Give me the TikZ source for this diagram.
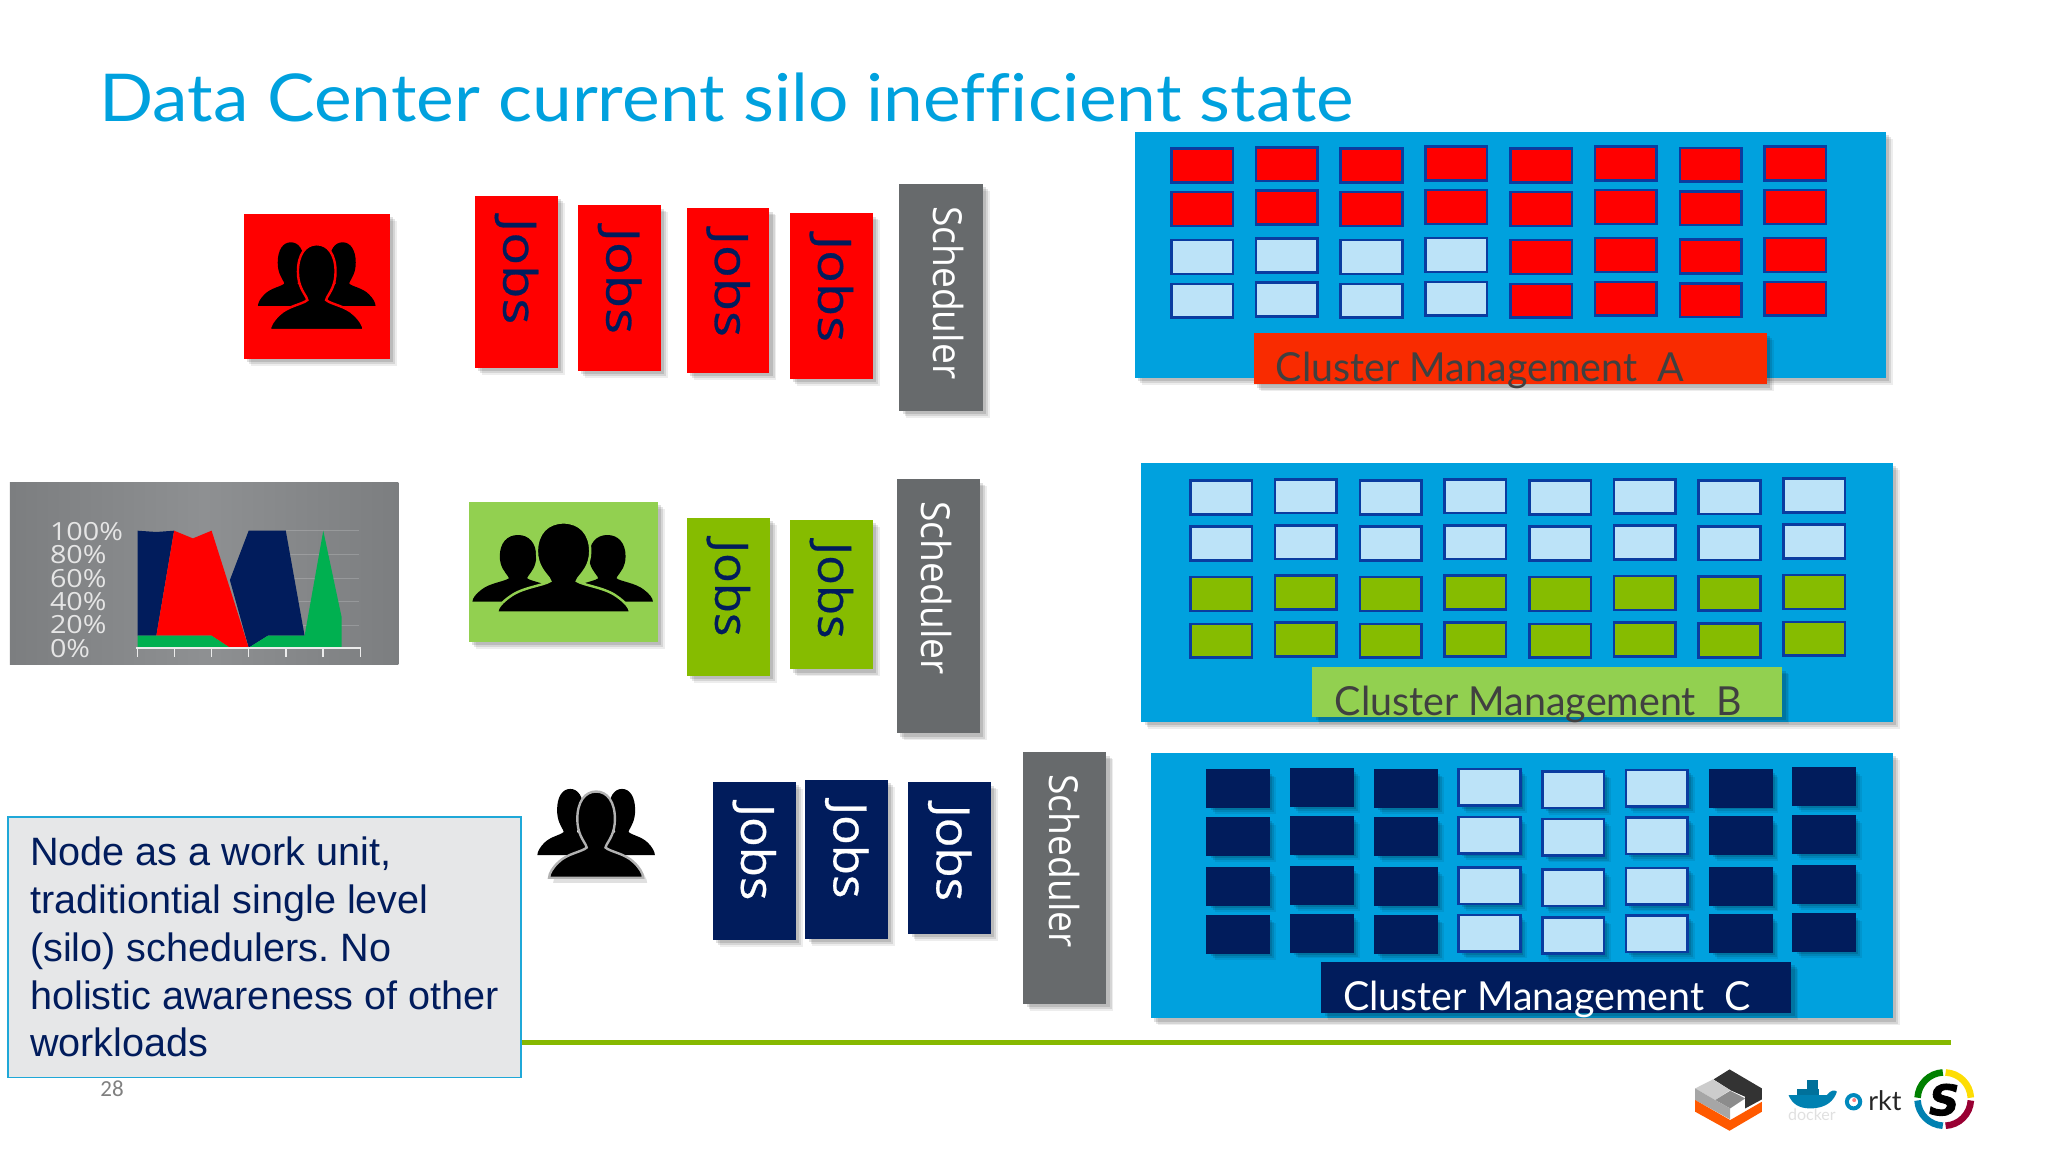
\documentclass[tikz,border=0pt]{standalone}
\usepackage{fontspec}
\usetikzlibrary{fit}
\usetikzlibrary{calc}
\usetikzlibrary{shadows}
\setmainfont{Lato}
\newfontfamily\titlefont[FakeStretch=1.08, Ligatures=NoCommon]{Lato}
\newfontfamily\clusterfont[FakeStretch=0.985]{Lato}
\newfontfamily\jobsfont[FakeStretch=1.07, FakeBold=0.6]{Open Sans}
\newfontfamily\jobswidefont[FakeStretch=1.18, FakeBold=0.6]{Open Sans}
\newfontfamily\schedfont[FakeStretch=0.93]{Open Sans}
\newfontfamily\chartfont[FakeStretch=1.15]{Open Sans}
\newfontfamily\notefont{Liberation Sans}
\newfontfamily\pagefont{Carlito}
\newfontfamily\logofont[FakeBold=2]{DejaVu Sans}
\definecolor{skyblue}{RGB}{0, 161, 222}
\definecolor{jobred}{RGB}{255, 0, 0}
\definecolor{barred}{RGB}{249, 43, 0}
\definecolor{jobgreen}{RGB}{134, 188, 0}
\definecolor{bargreen}{RGB}{146, 208, 80}
\definecolor{jobnavy}{RGB}{1, 28, 92}
\definecolor{cellfree}{RGB}{188, 227, 248}
\definecolor{celledge}{RGB}{10, 60, 160}
\definecolor{schedgray}{RGB}{103, 106, 108}
\definecolor{notefill}{RGB}{230, 231, 232}
\definecolor{noteedge}{RGB}{31, 168, 216}
\definecolor{chartgray}{RGB}{142, 144, 146}
\definecolor{chartdark}{RGB}{124, 126, 128}
\definecolor{chartgreen}{RGB}{0, 176, 80}
\definecolor{footgreen}{RGB}{134, 184, 0}
\tikzset{
    softshadow/.style={
        general shadow={shadow xshift=3.5pt, shadow yshift=-3.5pt, fill=black, opacity=0.07},
        general shadow={shadow xshift=2.6pt, shadow yshift=-2.6pt, fill=black, opacity=0.1},
        general shadow={shadow xshift=1.6pt, shadow yshift=-1.6pt, fill=black, opacity=0.12}},
    flatbox/.style={inner sep=0pt, softshadow},
    cellbox/.style={anchor=north west, inner sep=0pt, draw=celledge, line width=1.3pt,
        minimum width=30.8pt, minimum height=16.9pt},
    jobtext/.style={rotate=-90, anchor=west, inner sep=0pt, font=\jobsfont\fontsize{23}{27}\selectfont},
    schedtext/.style={rotate=-90, anchor=west, inner sep=0pt, text=white, font=\schedfont\fontsize{20}{24}\selectfont},
    clustertext/.style={anchor=base west, inner sep=0pt, font=\clusterfont\fontsize{20}{24}\selectfont},
    chartlabel/.style={anchor=west, inner sep=0pt, text=white!80!gray, font=\chartfont\fontsize{12.5}{14}\selectfont},
    person/.pic={
        \path[pic actions] (0,0) .. controls (0.24,0) and (0.4,0.12) .. (0.4,0.32)
            .. controls (0.4,0.48) and (0.28,0.56) .. (0.22,0.62) -- (0.2,0.65)
            .. controls (0.3,0.7) and (0.62,0.72) .. (0.8,0.82)
            .. controls (0.92,0.88) and (1,0.95) .. (1,1) -- (-1,1)
            .. controls (-1,0.95) and (-0.92,0.88) .. (-0.8,0.82)
            .. controls (-0.62,0.72) and (-0.3,0.7) .. (-0.2,0.65) -- (-0.22,0.62)
            .. controls (-0.28,0.56) and (-0.4,0.48) .. (-0.4,0.32)
            .. controls (-0.4,0.12) and (-0.24,0) .. (0,0) -- cycle;
    }
}

\begin{document}
\begin{tikzpicture}[x=0.65306pt, y=-0.65306pt]
    \useasboundingbox (0,0) rectangle (1568,882);

    % Title
    \node[anchor=base west, inner sep=0pt, text=skyblue, font=\titlefont\fontsize{33}{40}\selectfont] (title) at (76,93.4)
        {Data Center current silo inefficient state};

    % Row A: icon, jobs, scheduler
    \node[flatbox, fill=jobred, fit={(186.7,163.6) (298.4,274.9)}] (iconA) {};
    \pic[fill=black, xscale=25.2, yscale=48.6] at (222.7,185.5) {person};
    \pic[fill=black, xscale=25.2, yscale=48.6] at (262.3,185.5) {person};
    \pic[fill=black, draw=jobred, line width=1.2pt, xscale=36, yscale=65.7] at (242.5,187) {person};
    \foreach \n/\xa/\ya/\xb/\yb in {jobsA1/363.6/149.8/427.3/281.5, jobsA2/442.5/157.2/506.2/284,
                                    jobsA3/526/159.5/589/285.2, jobsA4/605/163.4/668/290} {
        \node[flatbox, fill=jobred, fit={(\xa,\ya) (\xb,\yb)}] (\n) {};
        \node[jobtext, font=\jobswidefont\fontsize{23}{27}\selectfont, text=jobnavy] (\n-text) at ($(\n.north)+(0,17)$) {Jobs};
    }

    % Row B: chart, icon, jobs, scheduler
    \node[inner sep=0pt, left color=chartdark, right color=chartdark, middle color=chartgray,
          fit={(7.5,369.6) (305,509)}] (chart) {};
    \foreach \y in {406.3,424.4,442.6,460.7,478.5}
        \draw[white, opacity=0.18] (218.8,\y) -- (275.2,\y);
    \fill[jobnavy] (105.3,406.3) -- (119.7,407.3) -- (133.3,406.3) -- (119.7,486.7) -- (105.3,486.7) -- cycle;
    \fill[jobnavy] (190.4,406.3) -- (218.8,406.3) -- (233.2,486.7) -- (205.1,486.7) -- (190.4,495.9) -- (176,444.1) -- cycle;
    \fill[jobred] (133.3,406.3) -- (147.7,412.2) -- (162,406.3) -- (190.4,495.9) -- (176,495.9) -- (162,486.7) -- (119.7,486.7) -- cycle;
    \fill[chartgreen] (105.3,486.7) -- (162,486.7) -- (176,495.9) -- (105.3,495.9) -- cycle;
    \fill[chartgreen] (190.4,495.9) -- (205.1,486.7) -- (233.2,486.7) -- (247.5,406.3) -- (261.5,472.2) -- (261.5,495.9) -- cycle;
    \draw[white!85!gray, line width=0.8pt] (104.3,495.9) -- (276.2,495.9);
    \foreach \x in {105.3,133.7,162,190.4,218.8,247.5,275.9}
        \draw[white!85!gray, line width=0.8pt] (\x,495.9) -- (\x,502.8);
    \foreach \n/\y/\t in {pct100/406.6/100\%, pct80/424.4/80\%, pct60/442.6/60\%,
                          pct40/460.7/40\%, pct20/478.5/20\%, pct0/496.2/0\%}
        \node[chartlabel] (\n) at (38,\y) {\t};

    \node[flatbox, fill=bargreen, fit={(359.3,384) (504,491.3)}] (iconB) {};
    \pic[fill=black, xscale=34.9, yscale=51] at (396.6,409.6) {person};
    \pic[fill=black, xscale=34.9, yscale=51] at (465,409.6) {person};
    \pic[fill=black, draw=bargreen, line width=1.2pt, xscale=51, yscale=69] at (431.5,400) {person};
    \foreach \n/\xa/\ya/\xb/\yb in {jobsB1/526/396.4/589.3/517.3, jobsB2/604.9/398/668.2/512.5} {
        \node[flatbox, fill=jobgreen, fit={(\xa,\ya) (\xb,\yb)}] (\n) {};
        \node[jobtext, text=jobnavy] (\n-text) at ($(\n.north)+(0,17)$) {Jobs};
    }

    % Row C: icon, jobs, scheduler
    \pic[fill=black, opacity=0.12, xscale=36, yscale=66] at (459.5,610) {person};
    \pic[fill=black, xscale=25.2, yscale=50.7] at (436.6,604) {person};
    \pic[fill=black, xscale=25.2, yscale=50.7] at (476.2,604) {person};
    \pic[fill=black, draw=white!70!black, line width=1.2pt, xscale=36, yscale=66] at (456.4,606) {person};
    \foreach \n/\xa/\ya/\xb/\yb in {jobsC1/545.7/598.5/609.3/719.8, jobsC2/616.6/597/680/719,
                                    jobsC3/695.5/599/758.8/715} {
        \node[flatbox, fill=jobnavy, fit={(\xa,\ya) (\xb,\yb)}] (\n) {};
        \node[jobtext, text=white] (\n-text) at ($(\n.north)+(0,17)$) {Jobs};
    }

    % Schedulers
    \foreach \n/\xa/\ya/\xb/\yb/\dx in {schedA/688.6/140.9/752.3/314.4/6, schedB/686.9/367/750.3/561.5/-1.5,
                                        schedC/783.6/576/847.1/768.8/-0.2} {
        \node[flatbox, fill=schedgray, fit={(\xa,\ya) (\xb,\yb)}] (\n) {};
        \node[schedtext] (\n-text) at ($(\n.north)+(\dx,17)$) {Scheduler};
    }

    % Cluster A
    \node[flatbox, fill=skyblue, fit={(868.8,100.8) (1444,289.5)}] (clusterA) {};
    \foreach \c/\dy in {0/0,1/-1,2/0,3/-1.5,4/0,5/-1.5,6/-0.5,7/-1.5}
        \foreach \r/\y in {1/112.8,2/146,3/182.8,4/216.4} {
            \def\cellfill{jobred}
            \ifnum\r>2 \ifnum\c<4 \def\cellfill{cellfree}\fi\fi
            \node[cellbox, fill=\cellfill] (cellA\r\c) at (895.7+\c*64.9,\y+\dy) {};
        }
    \node[flatbox, fill=barred, fit={(960,254.7) (1352.8,294.3)}] (barA) {};
    \node[clustertext, text=black!75] (labelA) at (976.6,292.3) {Cluster Management\ \ A};

    % Cluster B
    \node[flatbox, fill=skyblue, fit={(873.8,354.3) (1449,552.9)}] (clusterB) {};
    \foreach \c/\dy in {0/0,1/-1,2/0,3/-1,4/0,5/-0.8,6/-0.3,7/-1.5}
        \foreach \r/\y in {1/367,2/402.2,3/440.8,4/476.6} {
            \def\cellfill{cellfree}
            \ifnum\r>2 \def\cellfill{jobgreen}\fi
            \node[cellbox, fill=\cellfill] (cellB\r\c) at (910.4+\c*64.85,\y+\dy) {};
        }
    \node[flatbox, fill=bargreen, fit={(1004.8,510.9) (1364.6,548.7)}] (barB) {};
    \node[clustertext, text=black!75] (labelB) at (1021.6,548) {Cluster Management\ \ B};

    % Cluster C
    \node[flatbox, fill=skyblue, fit={(880.9,576.3) (1449,779.7)}] (clusterC) {};
    \foreach \c/\dy in {0/0,1/-1,2/0,3/-1,4/0.7,5/-0.5,6/-0.5,7/-1.5}
        \foreach \r/\y in {1/588.9,2/625.4,3/664.1,4/700.6} {
            \def\cellfill{jobnavy}
            \def\celldraw{jobnavy}
            \ifnum\c>2 \ifnum\c<6 \def\cellfill{cellfree}\def\celldraw{celledge}\fi\fi
            \node[cellbox, softshadow, fill=\cellfill, draw=\celldraw, minimum height=18.2pt] (cellC\r\c) at (923.5+\c*64.1,\y+\dy) {};
        }
    \node[flatbox, fill=jobnavy, fit={(1011.7,736.3) (1371.5,775.4)}] (barC) {};
    \node[clustertext, text=white] (labelC) at (1028,773.4) {Cluster Management\ \ C};

    % Note box & footer line
    \coordinate (lineend) at (1493.6,798.4);
    \node[anchor=north west, inner xsep=10pt, inner ysep=0pt, fill=notefill, draw=noteedge, line width=0.9pt,
          minimum width=256.4pt, minimum height=130.4pt, text=jobnavy, align=left,
          font=\notefont\frenchspacing\fontsize{19.8}{23.9}\selectfont] (note) at (5.6,624.6)
        {Node as a work unit,\\traditiontial single level\\(silo) schedulers. No\\holistic awareness of other\\workloads};
    \draw[footgreen, line width=2.5pt] (note.east |- lineend) -- (lineend);
    \node[anchor=base west, inner sep=0pt, text=gray, font=\pagefont\fontsize{11.5}{14}\selectfont] (pagenum) at (76.6,839.7) {28};

    % Logos
    \begin{scope}[shift={(1286.4,796.3)}, scale=0.2552]
        \fill[black!80] (148,88) -- (245,145) -- (245,178) -- (195,205) -- (195,170) -- (150,150) -- (100,118) -- cycle;
        \fill[black!20] (45,145) -- (98,118) -- (150,150) -- (105,180) -- cycle;
        \fill[black!45] (105,180) -- (150,152) -- (195,175) -- (150,205) -- cycle;
        \fill[black!35] (45,145) -- (105,180) -- (150,205) -- (150,238) -- (45,180) -- cycle;
        \fill[orange!70!red] (45,180) -- (150,240) -- (245,185) -- (245,215) -- (148,272) -- (45,215) -- cycle;

        \fill[skyblue!80!black] (325,165) -- (440,165) .. controls (450,150) and (465,148) .. (470,155)
            .. controls (462,180) and (440,205) .. (390,205) .. controls (355,205) and (335,190) .. (325,165) -- cycle;
        \fill[skyblue!70!black] (350,148) rectangle (415,165);
        \fill[skyblue!70!black] (380,120) rectangle (412,148);
        \node[anchor=base, inner sep=0pt, text=black!12, font=\fontsize{8}{9}\selectfont] (dockertext) at (395,241) {docker};

        \draw[skyblue!85!black, line width=2pt] (520,185) circle (20);
        \fill[red!50!white] (522,180) circle (6);
        \node[anchor=base west, inner sep=0pt, text=black!85, font=\fontsize{13.5}{15}\selectfont] (rkttext) at (563,210) {rkt};

        \draw[green!50!black, line width=3.3pt] (792,177) ++(183:80) arc[start angle=183, end angle=267, radius=80];
        \draw[yellow!80!orange, line width=3.3pt] (792,177) ++(273:80) arc[start angle=273, end angle=357, radius=80];
        \draw[purple!80!black, line width=3.3pt] (792,177) ++(3:80) arc[start angle=3, end angle=87, radius=80];
        \draw[skyblue!80!black, line width=3.3pt] (792,177) ++(93:80) arc[start angle=93, end angle=177, radius=80];
        \node[anchor=base, inner sep=0pt, font=\logofont\fontsize{21}{24}\selectfont\bfseries\itshape] (slogo) at (792,225) {S};
    \end{scope}
\end{tikzpicture}
\end{document}
